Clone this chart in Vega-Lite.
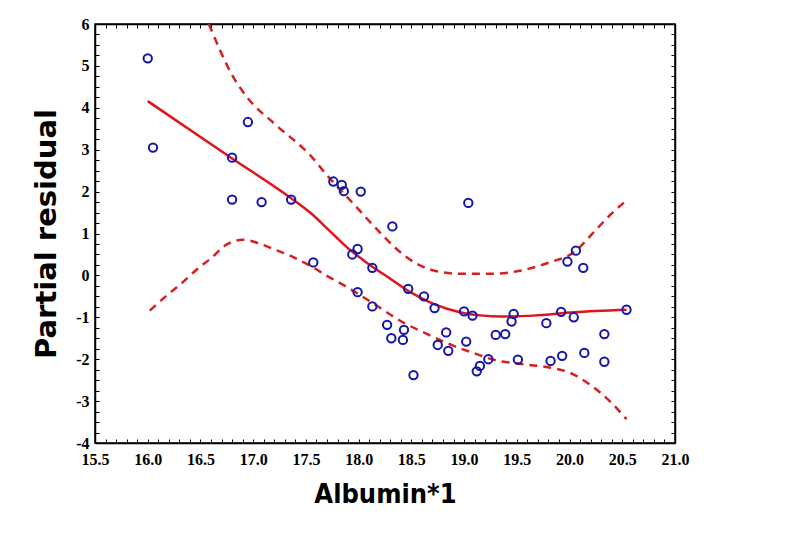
{
  "$schema": "https://vega.github.io/schema/vega-lite/v6.json",
  "width": 580,
  "height": 419,
  "autosize": {"type": "none"},
  "padding": {"left": 95, "top": 24, "right": 114, "bottom": 111},
  "background": "white",
  "config": {
    "view": {"stroke": "black", "strokeWidth": 1.5},
    "axis": {"grid": false, "domainColor": "black", "domainWidth": 1.5, "tickColor": "black", "tickWidth": 1, "tickSize": -4,
      "labelFont": "Liberation Serif", "labelFontWeight": "bold", "labelFontSize": 16, "labelColor": "black",
      "titleFont": "DejaVu Sans", "titleFontWeight": "bold", "titleColor": "black"}
  },
  "datasets": {
    "points": [
      {"albumin": 16.0, "resid": 5.18}, {"albumin": 16.05, "resid": 3.05}, {"albumin": 16.95, "resid": 3.66},
      {"albumin": 16.8, "resid": 2.81}, {"albumin": 16.8, "resid": 1.81}, {"albumin": 17.08, "resid": 1.75},
      {"albumin": 17.36, "resid": 1.81}, {"albumin": 17.57, "resid": 0.31},
      {"albumin": 17.76, "resid": 2.24}, {"albumin": 17.84, "resid": 2.16}, {"albumin": 17.86, "resid": 2.01},
      {"albumin": 18.02, "resid": 2.0}, {"albumin": 19.04, "resid": 1.73}, {"albumin": 18.32, "resid": 1.17},
      {"albumin": 17.99, "resid": 0.63}, {"albumin": 17.94, "resid": 0.5}, {"albumin": 18.13, "resid": 0.18},
      {"albumin": 17.99, "resid": -0.4}, {"albumin": 18.13, "resid": -0.74}, {"albumin": 18.47, "resid": -0.32},
      {"albumin": 18.62, "resid": -0.5}, {"albumin": 18.72, "resid": -0.78}, {"albumin": 19.0, "resid": -0.86},
      {"albumin": 19.08, "resid": -0.96}, {"albumin": 19.3, "resid": -1.42}, {"albumin": 18.27, "resid": -1.18},
      {"albumin": 18.43, "resid": -1.3}, {"albumin": 18.31, "resid": -1.5}, {"albumin": 18.42, "resid": -1.54},
      {"albumin": 18.83, "resid": -1.36}, {"albumin": 18.75, "resid": -1.66}, {"albumin": 18.85, "resid": -1.8},
      {"albumin": 19.02, "resid": -1.58}, {"albumin": 19.23, "resid": -2.0}, {"albumin": 19.15, "resid": -2.16},
      {"albumin": 19.12, "resid": -2.29}, {"albumin": 18.52, "resid": -2.38},
      {"albumin": 19.39, "resid": -1.4}, {"albumin": 19.45, "resid": -1.1}, {"albumin": 19.47, "resid": -0.92},
      {"albumin": 19.51, "resid": -2.01}, {"albumin": 19.78, "resid": -1.14}, {"albumin": 19.82, "resid": -2.04},
      {"albumin": 19.92, "resid": -0.87}, {"albumin": 19.93, "resid": -1.92}, {"albumin": 19.98, "resid": 0.33},
      {"albumin": 20.06, "resid": 0.59}, {"albumin": 20.04, "resid": -1.0}, {"albumin": 20.13, "resid": 0.18},
      {"albumin": 20.14, "resid": -1.85}, {"albumin": 20.33, "resid": -1.4}, {"albumin": 20.33, "resid": -2.06},
      {"albumin": 20.54, "resid": -0.82}
    ],
    "fit": [
      {"albumin": 16.0, "resid": 4.16}, {"albumin": 16.8, "resid": 2.79}, {"albumin": 17.3, "resid": 1.95}, {"albumin": 17.54, "resid": 1.5},
      {"albumin": 17.73, "resid": 1.05}, {"albumin": 17.89, "resid": 0.67}, {"albumin": 18.09, "resid": 0.28},
      {"albumin": 18.3, "resid": -0.08}, {"albumin": 18.49, "resid": -0.4}, {"albumin": 18.71, "resid": -0.68},
      {"albumin": 18.96, "resid": -0.88}, {"albumin": 19.18, "resid": -0.96}, {"albumin": 19.34, "resid": -0.98},
      {"albumin": 19.66, "resid": -0.96}, {"albumin": 20.04, "resid": -0.88}, {"albumin": 20.54, "resid": -0.82}
    ],
    "upper": [
      {"albumin": 16.58, "resid": 6.0}, {"albumin": 16.81, "resid": 4.74}, {"albumin": 16.94, "resid": 4.26},
      {"albumin": 17.22, "resid": 3.58}, {"albumin": 17.54, "resid": 2.87}, {"albumin": 17.7, "resid": 2.39},
      {"albumin": 17.95, "resid": 1.71}, {"albumin": 18.17, "resid": 1.11}, {"albumin": 18.36, "resid": 0.63},
      {"albumin": 18.55, "resid": 0.28}, {"albumin": 18.74, "resid": 0.1}, {"albumin": 18.96, "resid": 0.04},
      {"albumin": 19.26, "resid": 0.04}, {"albumin": 19.53, "resid": 0.11}, {"albumin": 19.81, "resid": 0.31},
      {"albumin": 20.04, "resid": 0.55}, {"albumin": 20.23, "resid": 1.03}, {"albumin": 20.38, "resid": 1.43},
      {"albumin": 20.54, "resid": 1.79}
    ],
    "lower": [
      {"albumin": 16.02, "resid": -0.84}, {"albumin": 16.18, "resid": -0.48}, {"albumin": 16.32, "resid": -0.19},
      {"albumin": 16.46, "resid": 0.13}, {"albumin": 16.61, "resid": 0.43}, {"albumin": 16.75, "resid": 0.74},
      {"albumin": 16.9, "resid": 0.85}, {"albumin": 17.06, "resid": 0.76}, {"albumin": 17.19, "resid": 0.63},
      {"albumin": 17.35, "resid": 0.47}, {"albumin": 17.54, "resid": 0.23}, {"albumin": 17.7, "resid": -0.01},
      {"albumin": 17.89, "resid": -0.28}, {"albumin": 18.17, "resid": -0.72}, {"albumin": 18.42, "resid": -1.12},
      {"albumin": 18.65, "resid": -1.4}, {"albumin": 18.9, "resid": -1.68}, {"albumin": 19.12, "resid": -1.88},
      {"albumin": 19.26, "resid": -2.0}, {"albumin": 19.56, "resid": -2.12}, {"albumin": 19.81, "resid": -2.2},
      {"albumin": 20.0, "resid": -2.32}, {"albumin": 20.19, "resid": -2.6}, {"albumin": 20.38, "resid": -3.0},
      {"albumin": 20.54, "resid": -3.43}
    ]
  },
  "resolve": {"axis": {"x": "independent", "y": "independent"}},
  "layer": [
    {
      "data": {"name": "lower"},
      "mark": {"type": "line", "color": "#d81e1e", "strokeWidth": 2.5, "strokeDash": [8, 6], "clip": true, "interpolate": "monotone"},
      "encoding": {
        "x": {"field": "albumin", "type": "quantitative", "scale": {"domain": [15.5, 21.0], "nice": false, "zero": false},
          "axis": {"orient": "bottom", "title": "Albumin*1", "titleFont": "DejaVu Sans Condensed, DejaVu Sans", "titleFontSize": 27, "titlePadding": 14,
            "values": [15.5,15.6,15.7,15.8,15.9,16.0,16.1,16.2,16.3,16.4,16.5,16.6,16.7,16.8,16.9,17.0,17.1,17.2,17.3,17.4,17.5,17.6,17.7,17.8,17.9,18.0,18.1,18.2,18.3,18.4,18.5,18.6,18.7,18.8,18.9,19.0,19.1,19.2,19.3,19.4,19.5,19.6,19.7,19.8,19.9,20.0,20.1,20.2,20.3,20.4,20.5,20.6,20.7,20.8,20.9,21.0],
            "labelExpr": "abs(datum.value*2 - round(datum.value*2)) < 0.01 ? format(datum.value, '.1f') : ''",
            "labelPadding": 12, "labelOverlap": false, "labelFlush": false}},
        "y": {"field": "resid", "type": "quantitative", "scale": {"domain": [-4, 6], "nice": false, "zero": false},
          "axis": {"orient": "left", "title": "Partial residual", "titleFontSize": 29, "titlePadding": 14,
            "values": [-4,-3.75,-3.5,-3.25,-3,-2.75,-2.5,-2.25,-2,-1.75,-1.5,-1.25,-1,-0.75,-0.5,-0.25,0,0.25,0.5,0.75,1,1.25,1.5,1.75,2,2.25,2.5,2.75,3,3.25,3.5,3.75,4,4.25,4.5,4.75,5,5.25,5.5,5.75,6],
            "labelExpr": "abs(datum.value - round(datum.value)) < 0.01 ? '' + round(datum.value) : ''",
            "labelPadding": 10, "labelOverlap": false, "labelFlush": false}}
      }
    },
    {
      "data": {"name": "upper"},
      "mark": {"type": "line", "color": "#d81e1e", "strokeWidth": 2.5, "strokeDash": [8, 6], "clip": true, "interpolate": "monotone"},
      "encoding": {
        "x": {"field": "albumin", "type": "quantitative",
          "axis": {"orient": "top", "title": null, "labels": false,
            "values": [15.5,15.6,15.7,15.8,15.9,16.0,16.1,16.2,16.3,16.4,16.5,16.6,16.7,16.8,16.9,17.0,17.1,17.2,17.3,17.4,17.5,17.6,17.7,17.8,17.9,18.0,18.1,18.2,18.3,18.4,18.5,18.6,18.7,18.8,18.9,19.0,19.1,19.2,19.3,19.4,19.5,19.6,19.7,19.8,19.9,20.0,20.1,20.2,20.3,20.4,20.5,20.6,20.7,20.8,20.9,21.0]}},
        "y": {"field": "resid", "type": "quantitative",
          "axis": {"orient": "right", "title": null, "labels": false,
            "values": [-4,-3.75,-3.5,-3.25,-3,-2.75,-2.5,-2.25,-2,-1.75,-1.5,-1.25,-1,-0.75,-0.5,-0.25,0,0.25,0.5,0.75,1,1.25,1.5,1.75,2,2.25,2.5,2.75,3,3.25,3.5,3.75,4,4.25,4.5,4.75,5,5.25,5.5,5.75,6]}}
      }
    },
    {
      "data": {"name": "fit"},
      "mark": {"type": "line", "color": "#e0141c", "strokeWidth": 2.5, "clip": true, "interpolate": "monotone"},
      "encoding": {
        "x": {"field": "albumin", "type": "quantitative", "axis": null},
        "y": {"field": "resid", "type": "quantitative", "axis": null}
      }
    },
    {
      "data": {"name": "points"},
      "mark": {"type": "point", "shape": "circle", "filled": false, "color": "#1414a8", "size": 70, "strokeWidth": 2, "opacity": 1},
      "encoding": {
        "x": {"field": "albumin", "type": "quantitative", "axis": null},
        "y": {"field": "resid", "type": "quantitative", "axis": null}
      }
    }
  ]
}
